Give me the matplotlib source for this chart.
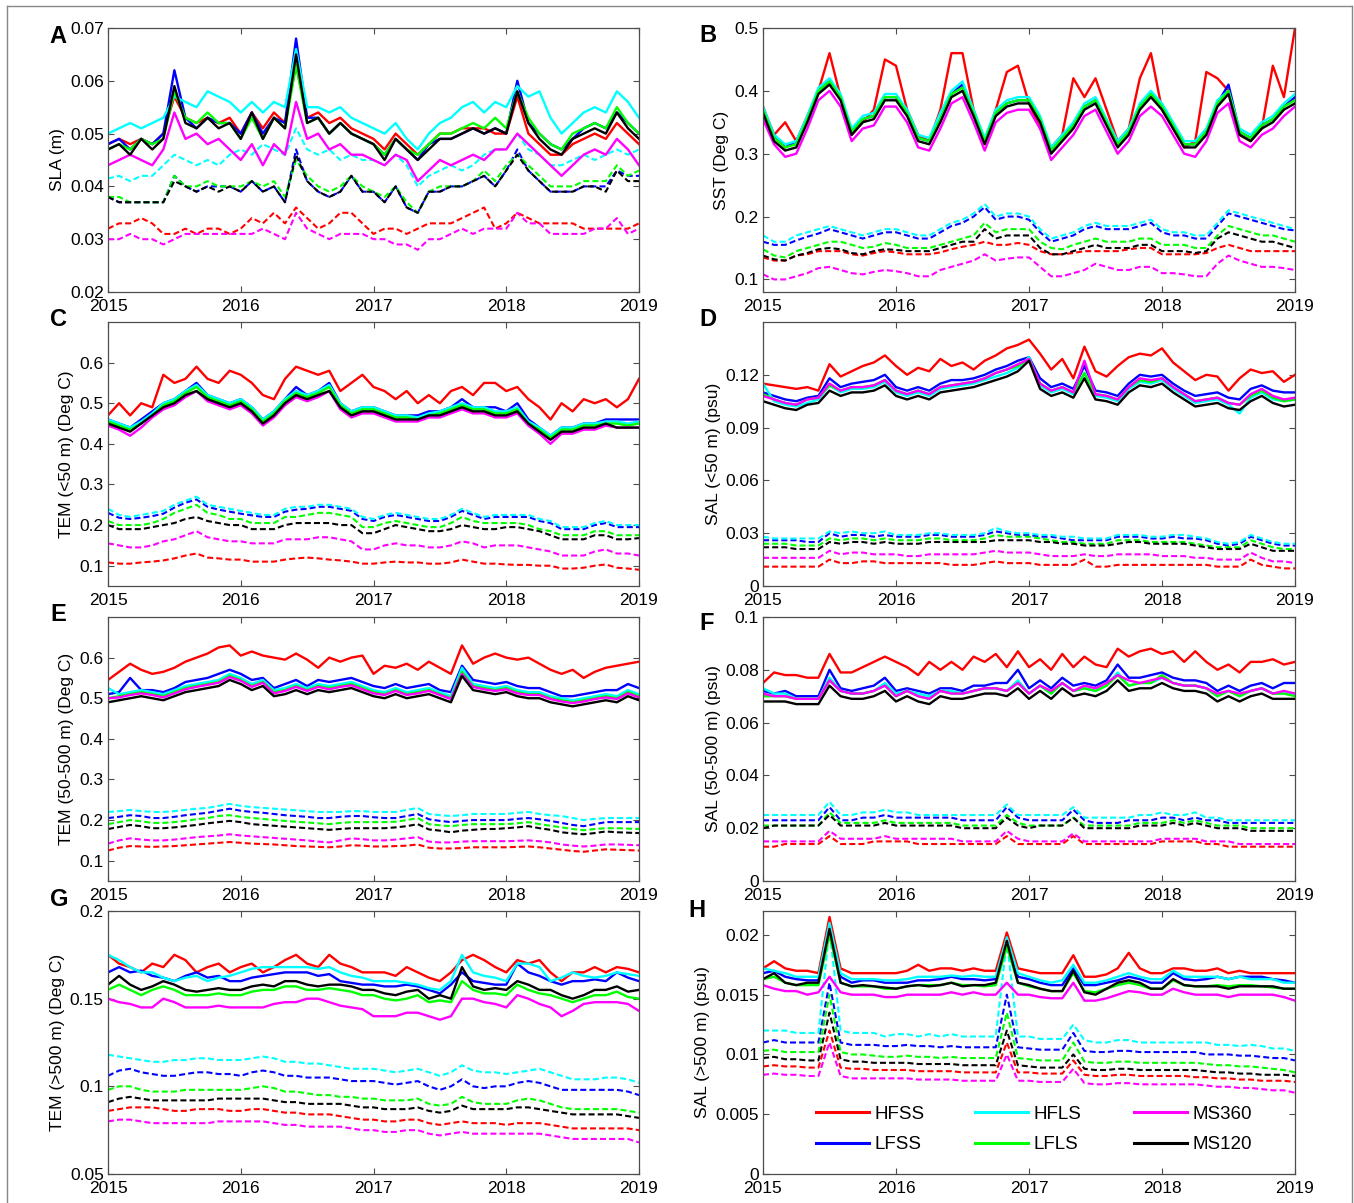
import numpy as np
import matplotlib
matplotlib.use("Agg")
import matplotlib.pyplot as plt
from matplotlib.lines import Line2D

plt.rcParams['font.family'] = ['Liberation Sans', 'DejaVu Sans']

# monthly time axis, Jan 2015 .. Jan 2019
months = 2015 + np.arange(49) / 12.0
years = [2015, 2016, 2017, 2018, 2019]

SERIES = ["HFSS", "LFSS", "HFLS", "LFLS", "MS360", "MS120"]
COLORS = {"HFSS": "#ff0000", "LFSS": "#0000ff", "HFLS": "#00ffff",
          "LFLS": "#00ff00", "MS360": "#ff00ff", "MS120": "#000000"}

# ---------------- Panel A : SLA (m) ----------------
A_HFSS = [.048,.049,.048,.049,.048,.050,.057,.053,.052,.053,.052,.053,
          .050,.054,.051,.054,.052,.063,.053,.054,.052,.053,.051,.050,
          .049,.047,.050,.048,.046,.048,.050,.050,.051,.051,.051,.050,
          .050,.057,.050,.048,.046,.046,.048,.049,.050,.049,.052,.050,.048]
A_LFSS = [.048,.049,.047,.049,.048,.050,.062,.053,.051,.053,.052,.052,
          .050,.054,.050,.053,.052,.068,.053,.053,.050,.052,.050,.049,
          .048,.046,.049,.047,.045,.048,.049,.049,.050,.051,.050,.051,
          .050,.060,.052,.050,.048,.047,.049,.051,.052,.051,.054,.052,.050]
A_HFLS = [.050,.051,.052,.051,.052,.053,.057,.056,.055,.058,.057,.056,
          .054,.056,.054,.056,.055,.066,.055,.055,.054,.055,.053,.052,
          .051,.050,.052,.049,.047,.050,.052,.053,.055,.056,.054,.056,
          .055,.059,.057,.058,.053,.050,.052,.054,.055,.054,.058,.056,.053]
A_LFLS = [.047,.048,.047,.049,.048,.049,.058,.053,.052,.054,.052,.052,
          .049,.053,.049,.053,.051,.063,.052,.053,.050,.052,.050,.049,
          .048,.046,.049,.047,.046,.048,.050,.050,.051,.052,.051,.053,
          .051,.058,.053,.050,.048,.047,.050,.051,.052,.051,.055,.052,.050]
A_MS360 = [.044,.045,.046,.045,.044,.047,.054,.049,.050,.048,.049,.047,
           .045,.048,.044,.048,.046,.056,.049,.050,.047,.048,.046,.046,
           .045,.044,.046,.045,.041,.043,.045,.044,.045,.046,.045,.047,
           .047,.050,.048,.046,.044,.042,.044,.046,.047,.046,.049,.047,.044]
A_MS120 = [.047,.048,.046,.049,.047,.049,.059,.052,.051,.053,.051,.052,
           .049,.054,.049,.053,.051,.065,.052,.053,.050,.052,.050,.049,
           .048,.045,.049,.047,.045,.047,.049,.049,.050,.051,.050,.051,
           .050,.058,.052,.049,.047,.046,.049,.050,.051,.050,.054,.051,.049]
A_HFSS_d = [.032,.033,.033,.034,.033,.031,.031,.032,.031,.032,.032,.031,
            .032,.034,.033,.035,.033,.036,.034,.032,.033,.035,.035,.033,
            .031,.032,.032,.031,.032,.033,.033,.033,.034,.035,.036,.032,
            .033,.035,.034,.033,.033,.033,.033,.032,.032,.032,.032,.032,.033]
A_LFSS_d = [.038,.037,.037,.037,.037,.037,.042,.040,.039,.040,.040,.040,
            .039,.041,.039,.040,.037,.047,.041,.039,.038,.039,.042,.039,
            .039,.037,.040,.036,.035,.039,.039,.040,.040,.041,.042,.040,
            .043,.047,.043,.041,.039,.039,.039,.040,.040,.040,.043,.042,.042]
A_HFLS_d = [.0415,.042,.041,.042,.042,.044,.046,.045,.044,.045,.044,.046,
            .047,.046,.048,.047,.046,.051,.047,.046,.047,.045,.046,.045,
            .045,.044,.046,.044,.040,.042,.043,.044,.043,.044,.046,.047,
            .047,.050,.047,.046,.044,.044,.045,.046,.045,.046,.047,.046,.047]
A_LFLS_d = [.038,.038,.037,.037,.037,.037,.042,.040,.040,.041,.040,.040,
            .040,.041,.040,.041,.038,.045,.042,.040,.039,.040,.042,.040,
            .039,.038,.040,.037,.035,.039,.040,.040,.040,.041,.043,.041,
            .044,.046,.044,.042,.040,.040,.040,.041,.041,.041,.044,.042,.043]
A_MS360_d = [.030,.030,.031,.030,.030,.029,.030,.031,.031,.031,.031,.031,
             .031,.031,.032,.031,.030,.035,.032,.031,.030,.031,.031,.031,
             .030,.030,.029,.029,.028,.030,.030,.031,.032,.031,.032,.032,
             .032,.035,.033,.033,.031,.031,.031,.031,.032,.032,.034,.031,.032]
A_MS120_d = [.038,.037,.037,.037,.037,.037,.041,.040,.039,.040,.039,.040,
             .039,.041,.039,.040,.037,.046,.041,.039,.038,.039,.042,.039,
             .039,.037,.040,.036,.035,.039,.039,.040,.040,.041,.042,.040,
             .043,.046,.043,.041,.039,.039,.039,.040,.040,.039,.043,.041,.041]

# ---------------- Panel B : SST (Deg C) ----------------
B_HFSS = [.375,.33,.35,.32,.36,.40,.46,.39,.33,.35,.37,.45,
          .44,.37,.33,.32,.37,.46,.46,.37,.32,.37,.43,.44,
          .38,.34,.31,.33,.42,.39,.42,.37,.32,.34,.42,.46,
          .37,.34,.31,.32,.43,.42,.40,.33,.32,.34,.44,.39,.50]
B_LFSS = [.37,.33,.31,.32,.355,.40,.415,.39,.335,.355,.36,.39,
          .39,.365,.325,.32,.355,.395,.41,.365,.32,.365,.38,.385,
          .385,.355,.305,.325,.345,.375,.385,.35,.315,.335,.375,.395,
          .375,.345,.315,.315,.335,.38,.41,.335,.325,.345,.355,.375,.39]
B_HFLS = [.375,.33,.315,.32,.36,.405,.42,.395,.34,.36,.365,.395,
          .395,.37,.33,.325,.365,.40,.415,.37,.325,.37,.385,.39,
          .39,.36,.31,.33,.35,.38,.39,.355,.32,.34,.38,.40,
          .38,.35,.32,.32,.34,.385,.40,.34,.33,.35,.36,.38,.395]
B_LFLS = [.37,.325,.31,.315,.355,.40,.415,.39,.335,.355,.36,.39,
          .39,.365,.325,.32,.355,.395,.405,.365,.32,.365,.38,.385,
          .385,.355,.305,.325,.345,.375,.385,.35,.315,.335,.375,.395,
          .375,.345,.315,.315,.335,.38,.40,.335,.325,.345,.355,.375,.385]
B_MS360 = [.355,.315,.295,.30,.34,.385,.40,.375,.32,.34,.345,.375,
           .375,.35,.31,.305,.34,.38,.39,.35,.305,.35,.365,.37,
           .37,.34,.29,.31,.33,.36,.37,.335,.30,.32,.36,.375,
           .36,.33,.30,.295,.32,.365,.38,.32,.31,.33,.34,.36,.375]
B_MS120 = [.365,.32,.305,.31,.35,.395,.41,.385,.33,.35,.355,.385,
           .385,.36,.32,.315,.35,.39,.40,.36,.315,.36,.375,.38,
           .38,.35,.30,.32,.34,.37,.38,.345,.31,.33,.37,.39,
           .37,.34,.31,.31,.33,.375,.395,.33,.32,.34,.35,.37,.38]
B_HFSS_d = [.135,.13,.13,.138,.14,.145,.145,.145,.14,.138,.142,.145,
            .143,.14,.14,.14,.143,.148,.152,.155,.16,.155,.155,.158,
            .155,.145,.14,.14,.142,.145,.145,.145,.145,.148,.15,.15,
            .14,.14,.14,.14,.142,.15,.155,.15,.145,.145,.145,.145,.145]
B_LFSS_d = [.16,.155,.155,.162,.168,.173,.18,.175,.17,.165,.17,.175,
            .175,.17,.165,.165,.175,.185,.19,.20,.215,.195,.20,.20,
            .195,.175,.16,.165,.17,.18,.185,.18,.18,.18,.185,.19,
            .175,.17,.17,.165,.165,.185,.205,.20,.195,.19,.185,.18,.178]
B_HFLS_d = [.17,.16,.16,.17,.175,.18,.185,.18,.175,.17,.175,.18,
            .18,.175,.17,.17,.18,.19,.195,.205,.22,.20,.205,.205,
            .20,.18,.165,.17,.175,.185,.19,.185,.185,.185,.19,.195,
            .18,.175,.175,.17,.17,.19,.21,.205,.20,.195,.19,.185,.18]
B_LFLS_d = [.148,.138,.135,.145,.15,.155,.16,.16,.155,.15,.152,.158,
            .155,.15,.15,.15,.155,.16,.165,.17,.19,.175,.18,.18,
            .18,.16,.15,.148,.155,.16,.165,.16,.16,.16,.165,.165,
            .155,.155,.155,.15,.15,.17,.185,.18,.175,.17,.17,.165,.16]
B_MS360_d = [.108,.10,.10,.105,.11,.118,.12,.115,.11,.108,.112,.115,
             .113,.11,.105,.105,.115,.12,.125,.13,.14,.13,.133,.135,
             .135,.12,.105,.105,.11,.115,.125,.12,.115,.115,.12,.12,
             .11,.11,.108,.105,.105,.125,.138,.13,.125,.12,.12,.118,.115]
B_MS120_d = [.138,.132,.13,.138,.142,.148,.15,.148,.142,.14,.145,.148,
             .147,.145,.145,.145,.15,.155,.16,.16,.18,.165,.17,.17,
             .17,.15,.14,.14,.145,.15,.155,.15,.15,.15,.155,.155,
             .145,.145,.145,.142,.145,.165,.175,.17,.165,.16,.16,.155,.15]

# ---------------- Panel C : TEM (<50 m) ----------------
C_HFSS = [.47,.50,.47,.50,.49,.57,.55,.56,.59,.56,.55,.58,
          .57,.55,.52,.51,.56,.59,.58,.57,.58,.53,.55,.57,
          .54,.53,.51,.53,.50,.52,.50,.53,.54,.52,.55,.55,
          .53,.54,.51,.49,.46,.50,.48,.51,.50,.51,.49,.51,.56]
C_LFSS = [.46,.45,.44,.46,.48,.50,.51,.53,.55,.52,.51,.50,
          .51,.49,.46,.48,.51,.54,.52,.53,.55,.50,.48,.49,
          .49,.48,.47,.47,.47,.48,.48,.49,.51,.49,.49,.49,
          .48,.50,.46,.44,.42,.44,.44,.45,.45,.46,.46,.46,.46]
C_HFLS = [.46,.45,.44,.455,.475,.50,.51,.53,.545,.52,.51,.50,
          .51,.49,.46,.48,.51,.53,.52,.53,.545,.50,.48,.49,
          .49,.48,.47,.47,.465,.475,.48,.49,.50,.49,.49,.48,
          .48,.49,.455,.44,.42,.44,.44,.45,.45,.455,.455,.45,.455]
C_LFLS = [.455,.445,.435,.45,.47,.495,.505,.525,.54,.515,.505,.495,
          .505,.485,.455,.475,.505,.525,.515,.525,.54,.495,.475,.485,
          .485,.475,.465,.465,.46,.47,.475,.485,.495,.485,.485,.475,
          .475,.485,.45,.435,.415,.435,.435,.445,.445,.45,.45,.445,.45]
C_MS360 = [.445,.435,.42,.44,.465,.485,.495,.515,.53,.505,.495,.485,
           .495,.475,.445,.465,.495,.515,.505,.515,.53,.485,.465,.475,
           .475,.465,.455,.455,.455,.465,.465,.475,.485,.475,.475,.465,
           .465,.475,.445,.425,.40,.425,.425,.435,.435,.445,.44,.44,.44]
C_MS120 = [.45,.44,.43,.45,.47,.49,.50,.52,.53,.51,.50,.49,
           .50,.48,.45,.47,.50,.52,.51,.52,.53,.49,.47,.48,
           .48,.47,.46,.46,.46,.47,.47,.48,.49,.48,.48,.47,
           .47,.48,.45,.43,.41,.43,.43,.44,.44,.45,.44,.44,.44]
C_HFSS_d = [.108,.105,.105,.108,.11,.113,.118,.125,.13,.12,.118,.115,
            .115,.11,.11,.11,.115,.118,.12,.118,.115,.113,.11,.105,
            .105,.108,.11,.108,.108,.105,.105,.108,.115,.11,.105,.105,
            .103,.102,.102,.10,.10,.093,.093,.095,.10,.103,.095,.093,.09]
C_LFSS_d = [.23,.218,.215,.218,.222,.228,.243,.255,.263,.245,.238,.233,
            .228,.224,.22,.22,.233,.238,.24,.245,.245,.24,.235,.215,
            .21,.22,.225,.22,.215,.21,.21,.22,.235,.225,.215,.22,
            .22,.22,.22,.21,.205,.19,.19,.19,.20,.205,.195,.195,.195]
C_HFLS_d = [.24,.225,.22,.225,.23,.235,.25,.26,.27,.25,.245,.24,
            .235,.23,.225,.225,.24,.245,.245,.25,.25,.245,.24,.22,
            .215,.225,.23,.225,.22,.215,.215,.225,.24,.23,.22,.225,
            .225,.225,.225,.215,.21,.195,.195,.195,.205,.21,.20,.20,.20]
C_LFLS_d = [.21,.20,.20,.20,.205,.215,.23,.24,.25,.23,.225,.215,
            .215,.205,.205,.205,.22,.22,.225,.23,.23,.225,.22,.195,
            .195,.205,.21,.205,.20,.195,.195,.205,.22,.21,.205,.205,
            .205,.205,.20,.19,.185,.175,.175,.175,.185,.185,.175,.175,.175]
C_MS360_d = [.155,.15,.145,.145,.15,.16,.165,.175,.185,.17,.165,.16,
             .16,.155,.155,.155,.165,.165,.165,.17,.17,.165,.16,.14,
             .14,.15,.155,.15,.15,.145,.145,.15,.16,.155,.145,.15,
             .15,.15,.145,.14,.135,.125,.125,.125,.135,.14,.13,.13,.125]
C_MS120_d = [.20,.19,.19,.19,.195,.20,.205,.215,.22,.21,.205,.20,
             .20,.19,.19,.19,.20,.205,.205,.205,.205,.20,.20,.18,
             .18,.19,.20,.195,.19,.185,.185,.19,.20,.195,.19,.19,
             .195,.195,.19,.185,.175,.165,.165,.165,.175,.175,.165,.165,.168]

# ---------------- Panel D : SAL (<50 m) ----------------
D_HFSS = [.115,.114,.113,.112,.113,.111,.126,.119,.122,.125,.127,.131,
          .125,.120,.124,.122,.129,.125,.127,.123,.128,.131,.135,.137,
          .140,.132,.123,.129,.118,.136,.122,.119,.125,.130,.132,.131,
          .135,.127,.122,.117,.120,.119,.111,.118,.123,.121,.122,.116,.120]
D_LFSS = [.110,.108,.106,.105,.107,.108,.118,.113,.115,.116,.117,.120,
          .113,.111,.113,.111,.115,.117,.117,.118,.120,.123,.125,.128,
          .130,.118,.113,.115,.112,.125,.111,.110,.108,.115,.120,.119,
          .120,.115,.111,.108,.109,.110,.107,.106,.112,.114,.111,.110,.110]
D_HFLS = [.115,.105,.103,.102,.104,.106,.114,.110,.112,.112,.113,.116,
          .110,.108,.110,.108,.112,.113,.114,.115,.117,.119,.121,.124,
          .130,.114,.110,.112,.109,.121,.108,.107,.105,.112,.116,.115,
          .117,.112,.108,.104,.105,.106,.103,.098,.107,.110,.106,.105,.106]
D_LFLS = [.109,.106,.104,.103,.106,.107,.114,.111,.113,.113,.114,.117,
          .111,.109,.111,.109,.113,.114,.115,.116,.118,.121,.123,.125,
          .129,.115,.111,.113,.110,.121,.109,.108,.106,.113,.117,.116,
          .118,.113,.109,.105,.106,.107,.104,.103,.108,.111,.107,.105,.106]
D_MS360 = [.108,.106,.104,.103,.106,.107,.115,.111,.113,.113,.114,.117,
           .111,.109,.111,.109,.113,.114,.115,.116,.118,.121,.123,.126,
           .129,.115,.111,.113,.110,.128,.109,.108,.106,.113,.118,.117,
           .118,.113,.109,.105,.106,.107,.104,.103,.109,.112,.108,.106,.107]
D_MS120 = [.105,.103,.101,.100,.103,.104,.111,.108,.110,.110,.111,.114,
           .108,.106,.108,.106,.110,.111,.112,.113,.115,.117,.119,.122,
           .128,.112,.108,.110,.107,.118,.106,.105,.103,.110,.114,.113,
           .115,.110,.106,.102,.103,.104,.101,.100,.105,.108,.104,.102,.103]
D_HFSS_d = [.011,.011,.011,.011,.011,.011,.015,.013,.013,.014,.014,.013,
            .013,.013,.013,.013,.013,.012,.012,.012,.013,.014,.013,.013,
            .013,.012,.012,.012,.012,.015,.011,.011,.012,.012,.012,.012,
            .012,.012,.012,.012,.012,.011,.011,.011,.015,.012,.011,.010,.010]
D_LFSS_d = [.026,.026,.026,.026,.025,.025,.030,.028,.029,.029,.028,.029,
            .028,.028,.028,.029,.029,.028,.028,.028,.029,.031,.030,.029,
            .029,.028,.028,.027,.026,.026,.026,.026,.028,.028,.028,.027,
            .027,.028,.027,.027,.026,.024,.023,.024,.028,.026,.024,.023,.023]
D_HFLS_d = [.028,.027,.027,.027,.027,.027,.031,.030,.031,.030,.030,.031,
            .029,.029,.029,.030,.030,.029,.029,.029,.030,.033,.031,.030,
            .030,.029,.029,.028,.028,.027,.027,.027,.029,.029,.029,.028,
            .028,.029,.029,.028,.027,.025,.024,.025,.029,.027,.025,.024,.024]
D_LFLS_d = [.024,.024,.024,.023,.023,.023,.027,.026,.027,.027,.026,.027,
            .026,.026,.026,.027,.027,.026,.026,.026,.027,.029,.028,.028,
            .028,.027,.026,.025,.025,.024,.024,.024,.026,.026,.026,.025,
            .025,.025,.025,.024,.023,.022,.022,.022,.026,.024,.022,.021,.021]
D_MS360_d = [.016,.016,.016,.016,.016,.016,.020,.018,.019,.019,.018,.018,
             .018,.017,.017,.018,.018,.018,.018,.018,.019,.020,.019,.019,
             .019,.018,.017,.017,.017,.018,.017,.017,.018,.018,.018,.018,
             .017,.017,.017,.016,.016,.015,.015,.015,.019,.016,.014,.014,.013]
D_MS120_d = [.022,.022,.022,.021,.021,.021,.025,.024,.025,.025,.024,.025,
             .024,.024,.024,.025,.025,.025,.025,.025,.025,.026,.026,.026,
             .026,.025,.025,.024,.024,.023,.023,.023,.024,.025,.025,.024,
             .024,.024,.024,.023,.022,.021,.021,.021,.024,.022,.020,.020,.020]

# ---------------- Panel E : TEM (50-500 m) ----------------
E_HFSS = [.545,.565,.585,.57,.56,.565,.575,.59,.60,.61,.625,.63,
          .605,.615,.605,.60,.595,.61,.595,.575,.60,.59,.60,.605,
          .56,.58,.575,.585,.57,.59,.575,.56,.63,.585,.60,.61,
          .60,.595,.60,.585,.57,.56,.57,.55,.565,.575,.58,.585,.59]
E_LFSS = [.510,.515,.550,.520,.520,.515,.525,.540,.545,.550,.560,.570,
          .560,.545,.550,.525,.535,.545,.530,.545,.540,.545,.550,.540,
          .530,.525,.535,.525,.530,.535,.520,.515,.580,.545,.540,.535,
          .540,.530,.525,.525,.515,.505,.505,.510,.515,.520,.520,.535,.525]
E_HFLS = [.525,.510,.515,.520,.515,.510,.520,.530,.535,.540,.545,.560,
          .550,.535,.545,.520,.525,.535,.525,.535,.530,.535,.540,.530,
          .520,.515,.525,.515,.520,.525,.515,.505,.575,.535,.530,.525,
          .530,.520,.515,.515,.505,.500,.495,.500,.505,.510,.505,.520,.510]
E_LFLS = [.500,.505,.510,.515,.510,.505,.515,.525,.530,.535,.540,.555,
          .545,.530,.540,.515,.520,.530,.520,.530,.525,.530,.535,.525,
          .515,.510,.520,.510,.515,.520,.510,.500,.565,.530,.525,.520,
          .525,.515,.510,.510,.500,.495,.490,.495,.500,.505,.500,.515,.505]
E_MS360 = [.500,.502,.508,.512,.508,.502,.512,.522,.528,.533,.538,.552,
           .543,.528,.538,.512,.518,.528,.518,.528,.522,.528,.532,.522,
           .512,.508,.518,.508,.512,.518,.508,.498,.560,.528,.522,.518,
           .522,.512,.508,.508,.498,.492,.488,.492,.498,.502,.498,.512,.502]
E_MS120 = [.490,.495,.500,.505,.500,.495,.505,.515,.520,.525,.530,.545,
           .535,.520,.530,.505,.510,.520,.510,.520,.515,.520,.525,.515,
           .505,.500,.510,.500,.505,.510,.500,.490,.555,.520,.515,.510,
           .515,.505,.500,.500,.490,.485,.480,.485,.490,.495,.490,.505,.495]
E_HFSS_d = [.125,.132,.136,.135,.134,.135,.136,.138,.140,.142,.144,.146,
            .144,.142,.141,.140,.138,.136,.135,.134,.133,.135,.138,.137,
            .135,.135,.136,.137,.140,.132,.130,.130,.131,.133,.133,.133,
            .133,.134,.135,.133,.130,.127,.124,.122,.125,.128,.127,.126,.125]
E_LFSS_d = [.205,.208,.212,.210,.205,.205,.208,.212,.215,.218,.223,.228,
            .223,.220,.218,.215,.212,.210,.208,.205,.205,.208,.210,.210,
            .207,.205,.205,.210,.215,.202,.198,.195,.198,.200,.200,.200,
            .200,.203,.205,.202,.198,.193,.188,.185,.190,.195,.195,.195,.195]
E_HFLS_d = [.220,.222,.225,.222,.220,.220,.222,.225,.228,.230,.235,.240,
            .235,.232,.230,.228,.226,.224,.222,.220,.220,.220,.222,.222,
            .220,.220,.220,.225,.230,.215,.212,.210,.212,.215,.215,.215,
            .215,.218,.220,.215,.212,.210,.205,.200,.203,.205,.205,.205,.205]
E_LFLS_d = [.190,.195,.200,.197,.193,.193,.195,.198,.202,.205,.210,.212,
            .208,.205,.203,.200,.198,.196,.194,.192,.190,.193,.195,.195,
            .195,.195,.196,.200,.205,.190,.187,.185,.188,.190,.190,.190,
            .190,.192,.195,.190,.186,.182,.178,.175,.178,.180,.180,.179,.178]
E_MS360_d = [.142,.150,.155,.152,.150,.150,.152,.155,.158,.160,.162,.165,
             .162,.160,.158,.156,.154,.152,.150,.147,.145,.150,.155,.153,
             .150,.150,.152,.155,.158,.147,.145,.145,.147,.148,.148,.148,
             .148,.149,.150,.148,.145,.140,.137,.135,.137,.140,.140,.139,.138]
E_MS120_d = [.178,.183,.188,.185,.180,.180,.182,.185,.188,.192,.195,.198,
             .195,.190,.188,.186,.184,.182,.180,.178,.176,.178,.180,.180,
             .180,.180,.182,.185,.190,.177,.174,.170,.174,.176,.178,.178,
             .180,.182,.185,.180,.176,.170,.167,.165,.168,.172,.170,.169,.168]

# ---------------- Panel F : SAL (50-500 m) ----------------
F_HFSS = [.075,.079,.078,.078,.077,.077,.086,.079,.079,.081,.083,.085,
          .083,.081,.078,.083,.080,.083,.080,.085,.083,.086,.081,.087,
          .081,.084,.080,.086,.081,.085,.082,.081,.088,.085,.087,.088,
          .086,.087,.083,.087,.083,.080,.082,.079,.083,.083,.084,.082,.083]
F_LFSS = [.072,.071,.072,.070,.070,.070,.080,.073,.072,.073,.074,.077,
          .072,.073,.072,.071,.073,.073,.072,.074,.074,.075,.075,.080,
          .073,.076,.073,.077,.074,.075,.074,.076,.082,.077,.077,.078,
          .079,.077,.076,.076,.075,.072,.074,.072,.074,.075,.073,.075,.075]
F_HFLS = [.073,.071,.071,.069,.069,.069,.077,.072,.071,.071,.072,.075,
          .071,.072,.071,.070,.072,.072,.071,.072,.073,.073,.072,.076,
          .071,.074,.071,.075,.072,.073,.072,.074,.079,.074,.075,.075,
          .077,.075,.074,.074,.073,.070,.072,.070,.072,.073,.071,.071,.071]
F_LFLS = [.070,.070,.070,.069,.069,.069,.076,.072,.071,.071,.072,.074,
          .070,.072,.070,.069,.072,.071,.071,.072,.073,.073,.072,.075,
          .071,.074,.071,.075,.072,.073,.072,.074,.078,.074,.075,.075,
          .078,.075,.074,.074,.073,.070,.072,.070,.072,.073,.071,.071,.070]
F_MS360 = [.071,.070,.070,.069,.069,.069,.076,.072,.071,.071,.072,.074,
           .070,.072,.070,.069,.072,.071,.071,.072,.073,.073,.072,.075,
           .071,.074,.072,.075,.072,.074,.073,.075,.078,.076,.075,.076,
           .077,.075,.074,.074,.073,.071,.072,.071,.072,.073,.071,.072,.071]
F_MS120 = [.068,.068,.068,.067,.067,.067,.074,.070,.069,.069,.070,.072,
           .068,.070,.068,.067,.070,.069,.069,.070,.071,.071,.070,.073,
           .069,.072,.069,.073,.070,.071,.070,.072,.076,.072,.073,.073,
           .075,.073,.072,.072,.071,.068,.070,.068,.070,.071,.069,.069,.069]
F_HFSS_d = [.013,.013,.014,.014,.014,.014,.017,.014,.014,.014,.015,.015,
            .015,.015,.014,.014,.014,.014,.014,.014,.014,.014,.017,.014,
            .014,.014,.014,.014,.017,.014,.014,.014,.014,.014,.014,.014,
            .015,.015,.015,.015,.014,.014,.013,.013,.013,.013,.013,.013,.013]
F_LFSS_d = [.023,.023,.023,.023,.023,.023,.028,.023,.023,.024,.024,.025,
            .024,.024,.024,.024,.024,.024,.023,.023,.023,.023,.028,.024,
            .023,.023,.023,.023,.027,.023,.022,.022,.022,.023,.023,.023,
            .024,.024,.023,.024,.023,.023,.022,.022,.022,.022,.022,.022,.022]
F_HFLS_d = [.025,.025,.025,.025,.025,.025,.030,.025,.025,.026,.026,.027,
            .026,.026,.025,.025,.025,.025,.025,.025,.025,.025,.029,.025,
            .025,.025,.025,.025,.028,.024,.024,.024,.024,.024,.025,.025,
            .026,.025,.025,.026,.024,.024,.023,.023,.023,.023,.023,.023,.023]
F_LFLS_d = [.021,.021,.021,.021,.021,.021,.026,.022,.022,.022,.022,.023,
            .022,.022,.022,.022,.022,.022,.021,.021,.021,.021,.025,.022,
            .021,.021,.021,.021,.024,.021,.021,.021,.021,.021,.022,.022,
            .022,.023,.022,.023,.022,.021,.021,.021,.020,.020,.020,.020,.020]
F_MS360_d = [.015,.015,.015,.015,.015,.015,.019,.016,.016,.016,.016,.017,
             .016,.016,.016,.016,.016,.016,.015,.015,.015,.015,.019,.016,
             .015,.015,.015,.015,.018,.015,.015,.015,.015,.015,.015,.015,
             .016,.016,.016,.016,.015,.015,.015,.014,.014,.014,.014,.014,.014]
F_MS120_d = [.020,.021,.021,.021,.021,.021,.025,.021,.021,.021,.021,.022,
             .021,.021,.021,.021,.021,.021,.020,.020,.020,.020,.024,.021,
             .020,.021,.021,.021,.024,.020,.020,.020,.020,.020,.021,.021,
             .021,.022,.021,.022,.021,.020,.020,.020,.019,.019,.019,.019,.019]

# ---------------- Panel G : TEM (>500 m) ----------------
G_HFSS = [.175,.170,.168,.165,.170,.168,.175,.172,.165,.168,.170,.165,
          .168,.170,.165,.168,.172,.175,.170,.168,.175,.170,.168,.165,
          .165,.165,.163,.168,.165,.162,.160,.165,.172,.175,.172,.168,
          .165,.172,.170,.172,.165,.160,.165,.165,.168,.165,.168,.167,.165]
G_LFSS = [.165,.168,.165,.166,.163,.162,.160,.163,.165,.162,.163,.160,
          .160,.162,.163,.164,.165,.165,.165,.163,.164,.160,.159,.158,
          .158,.157,.157,.158,.157,.155,.153,.158,.165,.160,.159,.158,
          .158,.170,.165,.163,.160,.158,.160,.160,.161,.160,.165,.162,.160]
G_HFLS = [.175,.172,.168,.165,.165,.162,.160,.162,.163,.160,.162,.163,
          .165,.167,.168,.168,.168,.168,.168,.167,.168,.165,.163,.162,
          .160,.160,.160,.159,.158,.156,.155,.160,.175,.165,.163,.162,
          .160,.170,.170,.168,.160,.162,.165,.163,.162,.163,.165,.164,.163]
G_LFLS = [.155,.158,.155,.152,.155,.157,.155,.152,.152,.152,.153,.152,
          .152,.154,.155,.155,.157,.157,.155,.155,.156,.155,.154,.152,
          .152,.150,.149,.150,.152,.148,.149,.148,.160,.155,.153,.153,
          .152,.158,.155,.153,.152,.150,.148,.150,.152,.152,.154,.151,.150]
G_MS360 = [.150,.148,.147,.145,.145,.150,.148,.145,.145,.145,.146,.145,
           .145,.145,.145,.147,.148,.148,.150,.150,.148,.146,.145,.144,
           .140,.140,.140,.142,.142,.140,.138,.140,.150,.150,.148,.147,
           .145,.152,.150,.147,.145,.140,.143,.147,.148,.148,.148,.147,.143]
G_MS120 = [.158,.163,.158,.155,.157,.160,.158,.155,.154,.155,.156,.155,
           .155,.157,.158,.157,.160,.160,.158,.157,.158,.158,.157,.155,
           .155,.153,.152,.154,.155,.150,.152,.150,.168,.157,.155,.156,
           .155,.160,.158,.155,.155,.152,.150,.152,.155,.155,.157,.154,.155]
G_HFSS_d = [.086,.087,.088,.088,.088,.087,.086,.086,.087,.087,.087,.086,
            .086,.087,.087,.086,.085,.085,.084,.084,.084,.083,.082,.081,
            .081,.080,.080,.081,.081,.079,.078,.079,.080,.079,.079,.079,
            .078,.079,.079,.079,.078,.077,.076,.076,.076,.076,.076,.076,.075]
G_LFSS_d = [.106,.109,.110,.108,.107,.106,.106,.107,.108,.108,.107,.107,
            .106,.108,.109,.108,.106,.106,.105,.105,.105,.104,.103,.103,
            .103,.102,.101,.102,.103,.100,.098,.100,.104,.100,.099,.100,
            .100,.102,.103,.102,.100,.098,.098,.098,.098,.098,.098,.097,.095]
G_HFLS_d = [.118,.117,.116,.115,.114,.114,.115,.115,.116,.116,.115,.115,
            .115,.116,.117,.116,.114,.114,.113,.113,.112,.111,.110,.110,
            .110,.109,.108,.109,.110,.108,.106,.108,.112,.109,.108,.108,
            .107,.108,.109,.110,.108,.106,.104,.104,.104,.105,.105,.104,.102]
G_LFLS_d = [.098,.100,.100,.098,.097,.097,.097,.098,.098,.098,.098,.098,
            .098,.099,.100,.099,.097,.097,.096,.095,.095,.094,.094,.093,
            .093,.092,.092,.092,.093,.090,.089,.090,.094,.091,.090,.090,
            .090,.092,.093,.092,.090,.088,.087,.087,.087,.087,.087,.086,.085]
G_MS360_d = [.080,.081,.081,.080,.079,.079,.079,.079,.079,.079,.080,.080,
             .080,.080,.080,.079,.078,.078,.077,.077,.077,.077,.076,.075,
             .075,.074,.074,.075,.075,.073,.072,.073,.074,.073,.073,.073,
             .073,.073,.073,.073,.072,.071,.070,.070,.070,.070,.070,.070,.068]
G_MS120_d = [.091,.093,.094,.093,.092,.092,.092,.092,.092,.092,.093,.093,
             .093,.093,.093,.092,.091,.091,.090,.090,.090,.090,.089,.088,
             .088,.087,.087,.087,.088,.086,.085,.086,.089,.087,.087,.087,
             .087,.088,.088,.087,.086,.085,.084,.084,.084,.084,.084,.083,.082]

# ---------------- Panel H : SAL (>500 m) ----------------
H_HFSS = [.0172,.0178,.0172,.0170,.0170,.0168,.0215,.0172,.0168,.0168,.0168,.0168,
          .0168,.0170,.0175,.0170,.0172,.0172,.0170,.0172,.0170,.0170,.0202,.0172,
          .0170,.0168,.0168,.0168,.0183,.0165,.0165,.0167,.0172,.0185,.0172,.0168,
          .0168,.0172,.0172,.0170,.0170,.0172,.0168,.0170,.0168,.0168,.0168,.0168,.0168]
H_LFSS = [.0168,.0170,.0165,.0163,.0162,.0162,.0205,.0165,.0160,.0162,.0162,.0160,
          .0160,.0160,.0162,.0162,.0163,.0165,.0163,.0163,.0162,.0163,.0196,.0165,
          .0163,.0160,.0158,.0158,.0172,.0158,.0158,.0160,.0162,.0165,.0163,.0160,
          .0160,.0168,.0163,.0162,.0163,.0165,.0163,.0165,.0165,.0165,.0163,.0162,.0160]
H_HFLS = [.0172,.0170,.0168,.0165,.0165,.0165,.0210,.0168,.0163,.0163,.0163,.0162,
          .0162,.0163,.0165,.0165,.0165,.0166,.0165,.0166,.0165,.0165,.0198,.0168,
          .0165,.0162,.0160,.0162,.0175,.0160,.0160,.0162,.0165,.0168,.0165,.0163,
          .0163,.0170,.0165,.0165,.0165,.0165,.0163,.0165,.0163,.0163,.0163,.0160,.0160]
H_LFLS = [.0163,.0165,.0160,.0158,.0158,.0158,.0200,.0160,.0157,.0157,.0157,.0155,
          .0155,.0157,.0158,.0158,.0158,.0160,.0158,.0158,.0157,.0158,.0190,.0160,
          .0157,.0155,.0153,.0153,.0168,.0153,.0152,.0155,.0158,.0160,.0158,.0155,
          .0155,.0162,.0158,.0157,.0157,.0158,.0157,.0158,.0158,.0157,.0156,.0155,.0155]
H_MS360 = [.0158,.0155,.0153,.0153,.0150,.0152,.0165,.0152,.0150,.0150,.0150,.0148,
           .0148,.0150,.0150,.0150,.0150,.0152,.0150,.0152,.0150,.0150,.0160,.0150,
           .0150,.0148,.0147,.0147,.0160,.0145,.0145,.0147,.0150,.0153,.0152,.0150,
           .0150,.0155,.0152,.0150,.0150,.0150,.0148,.0150,.0150,.0150,.0150,.0148,.0145]
H_MS120 = [.0163,.0168,.0160,.0158,.0160,.0160,.0205,.0160,.0157,.0158,.0157,.0156,
           .0155,.0157,.0158,.0157,.0158,.0160,.0157,.0158,.0158,.0160,.0195,.0160,
           .0158,.0155,.0153,.0153,.0170,.0152,.0150,.0155,.0160,.0162,.0160,.0155,
           .0155,.0163,.0158,.0157,.0157,.0157,.0155,.0157,.0157,.0157,.0157,.0155,.0155]
H_HFSS_d = [.0090,.0091,.0090,.0090,.0089,.0089,.0120,.0089,.0088,.0088,.0087,.0087,
            .0087,.0087,.0086,.0086,.0086,.0086,.0085,.0085,.0085,.0085,.0110,.0085,
            .0085,.0084,.0084,.0084,.0095,.0083,.0082,.0082,.0083,.0083,.0082,.0082,
            .0082,.0082,.0082,.0081,.0081,.0080,.0080,.0079,.0079,.0078,.0078,.0078,.0077]
H_LFSS_d = [.0110,.0112,.0110,.0110,.0110,.0110,.0160,.0110,.0108,.0108,.0108,.0107,
            .0107,.0108,.0107,.0107,.0106,.0107,.0106,.0106,.0106,.0106,.0150,.0106,
            .0105,.0104,.0104,.0104,.0118,.0103,.0102,.0102,.0103,.0103,.0102,.0102,
            .0102,.0102,.0102,.0102,.0100,.0100,.0100,.0099,.0099,.0098,.0097,.0097,.0095]
H_HFLS_d = [.0120,.0120,.0120,.0118,.0118,.0118,.0205,.0120,.0118,.0118,.0118,.0115,
            .0117,.0117,.0115,.0117,.0115,.0117,.0115,.0115,.0115,.0115,.0195,.0115,
            .0115,.0113,.0113,.0113,.0125,.0112,.0110,.0110,.0112,.0112,.0110,.0110,
            .0110,.0110,.0110,.0110,.0110,.0108,.0108,.0107,.0108,.0107,.0105,.0105,.0103]
H_LFLS_d = [.0103,.0104,.0102,.0102,.0102,.0102,.0150,.0102,.0100,.0100,.0099,.0098,
            .0098,.0099,.0098,.0098,.0097,.0098,.0097,.0097,.0097,.0097,.0135,.0097,
            .0096,.0095,.0095,.0095,.0110,.0094,.0093,.0093,.0094,.0094,.0093,.0093,
            .0093,.0093,.0093,.0093,.0092,.0091,.0091,.0090,.0090,.0089,.0088,.0087,.0085]
H_MS360_d = [.0083,.0084,.0083,.0083,.0082,.0082,.0110,.0082,.0080,.0080,.0080,.0080,
             .0080,.0080,.0079,.0079,.0079,.0079,.0078,.0078,.0078,.0078,.0100,.0078,
             .0078,.0077,.0077,.0077,.0088,.0076,.0075,.0075,.0076,.0076,.0075,.0075,
             .0075,.0075,.0075,.0075,.0074,.0073,.0073,.0072,.0072,.0071,.0070,.0070,.0068]
H_MS120_d = [.0097,.0098,.0096,.0096,.0095,.0095,.0135,.0096,.0094,.0094,.0093,.0093,
             .0093,.0093,.0092,.0092,.0092,.0092,.0091,.0091,.0091,.0091,.0120,.0091,
             .0090,.0089,.0089,.0089,.0100,.0088,.0087,.0087,.0088,.0088,.0087,.0087,
             .0087,.0087,.0087,.0087,.0086,.0085,.0085,.0084,.0084,.0083,.0083,.0083,.0082]

# panel settings (letter, ylabel, ylim, yticks)
YLABELS = {"A": "SLA (m)", "B": "SST (Deg C)", "C": "TEM (<50 m) (Deg C)",
           "D": "SAL (<50 m) (psu)", "E": "TEM (50-500 m) (Deg C)",
           "F": "SAL (50-500 m) (psu)", "G": "TEM (>500 m) (Deg C)",
           "H": "SAL (>500 m) (psu)"}
YLIMS = {"A": (0.02, 0.07), "B": (0.08, 0.5), "C": (0.05, 0.7), "D": (0, 0.15),
         "E": (0.05, 0.7), "F": (0, 0.1), "G": (0.05, 0.2), "H": (0, 0.022)}
YTICKS = {"A": [0.02, 0.03, 0.04, 0.05, 0.06, 0.07],
          "B": [0.1, 0.2, 0.3, 0.4, 0.5],
          "C": [0.1, 0.2, 0.3, 0.4, 0.5, 0.6],
          "D": [0, 0.03, 0.06, 0.09, 0.12],
          "E": [0.1, 0.2, 0.3, 0.4, 0.5, 0.6],
          "F": [0, 0.02, 0.04, 0.06, 0.08, 0.1],
          "G": [0.05, 0.1, 0.15, 0.2],
          "H": [0, 0.005, 0.01, 0.015, 0.02]}

W, H = 1354, 1203
fig = plt.figure(figsize=(W / 100, H / 100), dpi=100)

cols = {"left": (108, 639), "right": (763, 1295)}
rows = [(28, 292), (322, 586), (617, 881), (911, 1174)]
layout = {"A": ("left", 0), "B": ("right", 0), "C": ("left", 1), "D": ("right", 1),
          "E": ("left", 2), "F": ("right", 2), "G": ("left", 3), "H": ("right", 3)}
letter_pos = {"A": (49, 43), "B": (699, 42), "C": (50, 326), "D": (699, 326),
              "E": (50, 621), "F": (699, 630), "G": (50, 906), "H": (688, 917)}
ylabel_x = {"A": -0.081, "B": -0.064, "C": -0.064, "D": -0.079,
            "E": -0.064, "F": -0.079, "G": -0.081, "H": -0.100}

g = globals()
EDGE = "#4d4d4d"
for P in "ABCDEFGH":
    c, r = layout[P]
    x0, x1 = cols[c]
    y0, y1 = rows[r]
    ax = fig.add_axes([x0 / W, 1 - y1 / H, (x1 - x0) / W, (y1 - y0) / H])
    for s in SERIES:
        vals = g[f"{P}_{s}_d"]
        ax.plot(months[:len(vals)], vals, color=COLORS[s], lw=1.5,
                dashes=(2.9, 1.5))
    for s in SERIES:
        vals = g[f"{P}_{s}"]
        ax.plot(months[:len(vals)], vals, color=COLORS[s], lw=1.7)
    ax.set_xlim(2015, 2019)
    ax.set_ylim(*YLIMS[P])
    ax.set_xticks(years)
    ax.set_xticklabels([str(y) for y in years])
    ax.set_yticks(YTICKS[P])
    ax.set_yticklabels(["{:g}".format(v) for v in YTICKS[P]])
    ax.tick_params(direction="in", length=4.5, width=0.8, color=EDGE,
                   top=True, right=True, labelsize=12.5)
    ax.tick_params(axis="x", pad=5)
    ax.tick_params(axis="y", pad=3)
    for sp in ax.spines.values():
        sp.set_color(EDGE)
        sp.set_linewidth(0.9)
    ax.set_ylabel(YLABELS[P], fontsize=12.5)
    ax.yaxis.set_label_coords(ylabel_x[P], 0.5)
    lx, ly = letter_pos[P]
    fig.text(lx / W, 1 - ly / H, P, fontsize=17, fontweight="bold",
             ha="left", va="baseline")
    if P == "H":
        # three legend columns: (HFSS, LFSS), (HFLS, LFLS), (MS360, MS120)
        col_x = [(816 - x0) / (x1 - x0), (975 - x0) / (x1 - x0),
                 (1134 - x0) / (x1 - x0)]
        y_mid = (y1 - 1129.5) / (y1 - y0)
        for k in range(3):
            names = [SERIES[2 * k], SERIES[2 * k + 1]]
            handles = [Line2D([], [], color=COLORS[s], lw=2.2) for s in names]
            leg = ax.legend(handles, names, frameon=False, loc="center left",
                            bbox_to_anchor=(col_x[k], y_mid), fontsize=13.5,
                            handlelength=2.85, handletextpad=0.27,
                            labelspacing=0.71, borderaxespad=0, borderpad=0)
            if k < 2:
                ax.add_artist(leg)

# outer frame of the figure
frame = [((7, 7), (1203, 6)), ((7, 1352), (6, 6)), ((1352, 1352), (6, 1203))]
for xs, ys in frame:
    fig.add_artist(Line2D([x / W for x in xs], [1 - y / H for y in ys],
                          color="#888888", lw=1.0))

fig.savefig("out.png", dpi=100)
